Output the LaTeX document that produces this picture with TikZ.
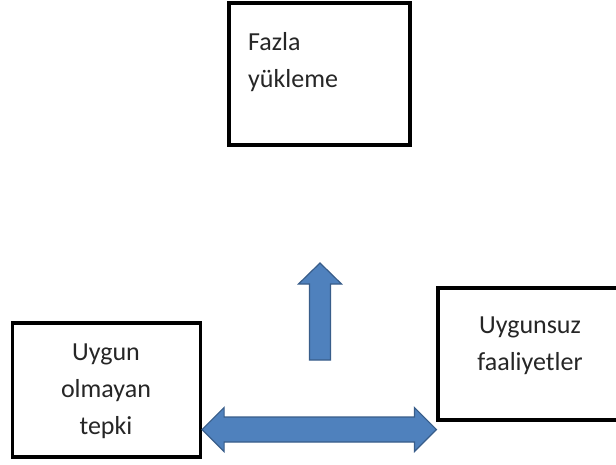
\documentclass[tikz,border=0pt]{standalone}
\usepackage{fontspec}
\setmainfont{Carlito}
\usetikzlibrary{calc}
\definecolor{arrowfill}{RGB}{79,129,189}
\definecolor{arrowline}{RGB}{56,93,138}
\tikzset{
  box/.style={draw=black, line width=3.2pt, fill=white, inner sep=0pt},
  lbl/.style={inner sep=0pt, font=\fontsize{26}{37}\selectfont, text=black!85},
  blockarrow/.style={fill=arrowfill, draw=arrowline, line width=1.2pt, line join=miter}
}
\begin{document}
\begin{tikzpicture}[x=1pt,y=-1pt]
\useasboundingbox (0,0) rectangle (616,464);
\clip (0,0) rectangle (616,464);
\fill[white] (0,0) rectangle (616,464);
% boxes
\node[box, minimum width=181pt, minimum height=142pt] (top) at (319.5,74) {};
\node[box, minimum width=188pt, minimum height=134pt] (left) at (106.5,390) {};
\node[box, minimum width=182pt, minimum height=132pt] (right) at (529,354) {};
% texts
\node[lbl, align=left, anchor=north west] (ttop) at (248,32) {Fazla\\yükleme};
\node[lbl, align=center] (tleft) at (106,391) {Uygun\\olmayan\\tepki};
\node[lbl, align=center] (tright) at (530,346) {Uygunsuz\\faaliyetler};
% up arrow
\draw[blockarrow] (320,263) -- (341.5,284) -- (330.5,284) -- (330.5,360)
  -- (309.5,360) -- (309.5,284) -- (298.5,284) -- cycle;
% double arrow between the two lower boxes
\coordinate (da) at (left.east |- 0,429.5);
\coordinate (db) at (right.west |- 0,429.5);
\draw[blockarrow] (da) -- ++(22,-22) -- ++(0,9.5) -- ($(db)+(-22,-12.5)$)
  -- ++(0,-9.5) -- (db) -- ++(-22,22) -- ++(0,-9.5) -- ($(da)+(22,12.5)$)
  -- ++(0,9.5) -- cycle;
\end{tikzpicture}
\end{document}
